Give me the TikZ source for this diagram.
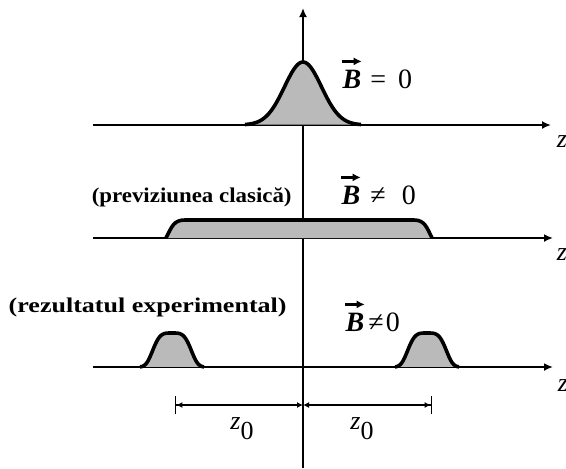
\documentclass[tikz,border=0pt]{standalone}
\usepackage{graphicx}
\usepackage{fontspec}
\setmainfont{Liberation Serif}
\usetikzlibrary{arrows.meta,positioning}

\begin{document}
\begin{tikzpicture}[
x=0.5pt, y=-0.5pt,
every node/.style={inner sep=0pt},
axis/.style={line width=1.3pt, -{Latex[length=4.5pt,width=4pt]}},
curve/.style={line width=1.8pt, draw=black, fill=black!27, line join=round},
dimline/.style={line width=0.7pt},
caption/.style={font=\bfseries\fontsize{10.5}{12}\selectfont, anchor=east},
bsym/.style={font=\bfseries\itshape\fontsize{14}{16}\selectfont},
rel/.style={font=\fontsize{14}{16}\selectfont, anchor=west},
vecarrow/.style={line width=1.1pt, -{Latex[length=4pt,width=4pt]}},
zlab/.style={font=\itshape\fontsize{13}{15}\selectfont}
]
\useasboundingbox (0,0) rectangle (566,468);

% axes
\coordinate (vb) at (303,468);
\coordinate (vt) at (303,8);
\draw[axis] (vb) -- (vt);
\coordinate (a1s) at (93,125);
\coordinate (a1e) at (551,125);
\coordinate (a2s) at (93,238);
\coordinate (a2e) at (553,238);
\coordinate (a3s) at (93,367);
\coordinate (a3e) at (553,367);
\draw[axis] (a1s) -- (a1e);
\draw[axis] (a2s) -- (a2e);
\draw[axis] (a3s) -- (a3e);
\node[zlab] (z1) at (562,142) {z};
\node[zlab] (z2) at (562,255) {z};
\node[zlab] (z3) at (563,386) {z};

% B = 0
\draw[curve] plot[domain=245:361, samples=70, smooth]
  (\x, {125-63*exp(-(\x-303)*(\x-303)/(2*18.5*18.5))});
\node[bsym] (b1) at (352,79) {B};
\draw[vecarrow] ([yshift=4pt]b1.north west) -- ([yshift=4pt]b1.north east);
\node[rel] (r1) at (370,79) {=\hspace{6pt}0};

% previziunea clasica
\draw[curve] (166,238) .. controls (172,226) and (174,220) .. (185,220)
  -- (414,220) .. controls (425,220) and (427,228) .. (432,238);
\node[caption] (pc) at (292,197) {\scalebox{1.09}[1]{(previziunea clasică)}};
\node[bsym] (b2) at (351,195) {B};
\draw[vecarrow] ([yshift=4pt]b2.north west) -- ([yshift=4pt]b2.north east);
\node[rel] (r2) at (370,195) {≠\hspace{8pt}0};

% rezultatul experimental
\foreach \c in {172,427}
  \draw[curve] plot[domain=\c-32:\c+32, samples=60, smooth]
    (\x, {367-34*exp(-((\x-\c)/21)*((\x-\c)/21)*((\x-\c)/21)*((\x-\c)/21))});
\node[caption] (re) at (287,307) {\scalebox{1.24}[1]{(rezultatul experimental)}};
\node[bsym] (b3) at (355,322) {B};
\draw[vecarrow] ([yshift=4pt]b3.north west) -- ([yshift=4pt]b3.north east);
\node[rel] (r3) at (368,322) {≠\hspace{1pt}0};

% z0
\coordinate (dl) at (175,405);
\coordinate (dm) at (303,405);
\coordinate (dr) at (432,405);
\draw[dimline, {Bar[width=9pt]Latex[length=3pt,width=3pt]}-{Latex[length=3pt,width=3pt]}] (dl) -- (dm);
\draw[dimline, {Latex[length=3pt,width=3pt]}-{Latex[length=3pt,width=3pt]Bar[width=9pt]}] (dm) -- (dr);
\node[zlab] (zl) at (242,429) {z\raisebox{-5pt}{\upshape 0}};
\node[zlab] (zr) at (362,429) {z\raisebox{-5pt}{\upshape 0}};
\end{tikzpicture}
\end{document}
